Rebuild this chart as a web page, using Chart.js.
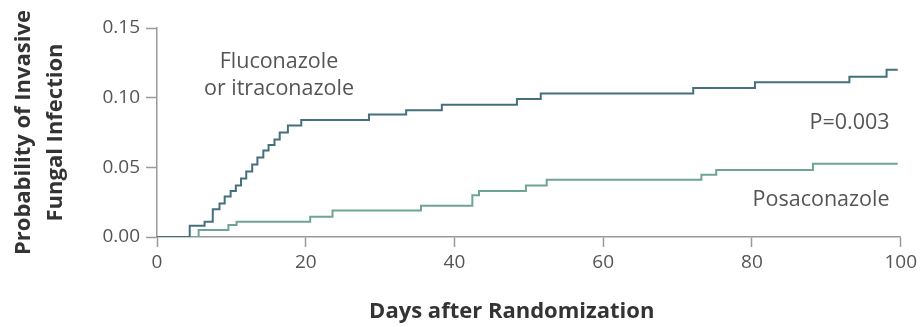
<!DOCTYPE html>
<html>
<head>
<meta charset="utf-8">
<script src="https://cdn.jsdelivr.net/npm/chart.js@4"></script>
<style>
  body { margin: 0; background: #fff; }
  #wrap { width: 921px; height: 327px; position: relative; }
</style>
</head>
<body>
<div id="wrap"><canvas id="stage1"></canvas></div>
<script>
// Kaplan-Meier style curves, [day, probability] (value holds until next step)
var flucoDays   = [0, 4.4, 6.4, 7.5, 8.4, 9.1, 9.9, 10.6, 11.3, 12.0, 12.8, 13.5, 14.3, 15.0, 15.8, 16.5, 17.6, 19.4, 28.5, 33.5, 38.3, 48.4, 51.6, 72.1, 80.4, 93.1, 98.1, 99.6];
var flucoValues = [0, 0.008, 0.011, 0.020, 0.024, 0.029, 0.033, 0.037, 0.042, 0.047, 0.052, 0.057, 0.062, 0.066, 0.070, 0.075, 0.080, 0.084, 0.088, 0.091, 0.095, 0.099, 0.103, 0.107, 0.111, 0.115, 0.120, 0.120];

var posaDays   = [0, 5.6, 9.6, 10.7, 20.6, 23.6, 35.5, 42.4, 43.3, 49.6, 52.4, 73.2, 75.2, 88.2, 99.6];
var posaValues = [0, 0.005, 0.0086, 0.011, 0.0146, 0.019, 0.0225, 0.030, 0.033, 0.037, 0.041, 0.0446, 0.048, 0.0525, 0.0525];

var xTicks = [0, 20, 40, 60, 80, 100];
var yTicks = [0.00, 0.05, 0.10, 0.15];

// in-plot labels, anchored at (day, probability) on the text baseline
var noteText  = ['Fluconazole', 'or itraconazole', 'P=0.003', 'Posaconazole'];
var noteDay   = [16.4, 16.4, 98.5, 98.5];
var noteValue = [0.1216, 0.1022, 0.0777, 0.0223];
var noteAlign = ['center', 'center', 'right', 'right'];

var xTitle = 'Days after Randomization';
var xTitleDay = 47.7;

function toPoints(xs, ys) {
  var pts = [];
  for (var i = 0; i < xs.length; i++) {
    pts.push({x: xs[i], y: ys[i]});
  }
  return pts;
}

var notesPlugin = {
  id: 'notes',
  afterDraw: function(chart) {
    var ctx = chart.ctx;
    var xs = chart.scales.x, ys = chart.scales.y;
    ctx.save();
    ctx.font = '21.5px "Open Sans", sans-serif';
    ctx.fillStyle = '#555555';
    ctx.textBaseline = 'alphabetic';
    for (var i = 0; i < noteText.length; i++) {
      ctx.textAlign = noteAlign[i];
      ctx.fillText(noteText[i], xs.getPixelForValue(noteDay[i]), ys.getPixelForValue(noteValue[i]));
    }
    // x axis title (sits a little left of the axis centre in the original)
    ctx.font = 'bold 22px "Open Sans", sans-serif';
    ctx.fillStyle = '#333333';
    ctx.textAlign = 'center';
    ctx.fillText(xTitle, xs.getPixelForValue(xTitleDay), chart.height - 9);
    ctx.restore();
  }
};

var axisGray = '#9a9a9a';

var chart = new Chart(document.getElementById('stage1'), {
  type: 'scatter',
  data: {
    datasets: [{
      label: 'Fluconazole or itraconazole',
      data: toPoints(flucoDays, flucoValues),
      showLine: true,
      stepped: 'before',
      borderColor: '#44707c',
      borderWidth: 2,
      pointRadius: 0
    }, {
      label: 'Posaconazole',
      data: toPoints(posaDays, posaValues),
      showLine: true,
      stepped: 'before',
      borderColor: '#6ea496',
      borderWidth: 2,
      pointRadius: 0
    }]
  },
  options: {
    responsive: true,
    maintainAspectRatio: false,
    animation: false,
    layout: { padding: { top: 28, right: 18, left: 0, bottom: 0 } },
    plugins: {
      legend: { display: false },
      tooltip: { enabled: false }
    },
    scales: {
      x: {
        type: 'linear',
        min: 0,
        max: 100,
        afterBuildTicks: function(scale) {
          scale.ticks = xTicks.map(function(v) { return {value: v}; });
        },
        afterFit: function(scale) { scale.height = 90; },
        grid: { drawOnChartArea: false, drawTicks: true, tickLength: 10, tickColor: axisGray, tickWidth: 1.5 },
        border: { display: true, color: axisGray, width: 1.5 },
        ticks: {
          padding: 4,
          color: '#555555',
          maxRotation: 0,
          font: { family: '"Open Sans", sans-serif', size: 19 }
        },
        title: { display: false }
      },
      y: {
        min: 0,
        max: 0.15,
        afterBuildTicks: function(scale) {
          scale.ticks = yTicks.map(function(v) { return {value: v}; });
        },
        afterFit: function(scale) { scale.width = 157; },
        grid: { drawOnChartArea: false, drawTicks: true, tickLength: 11, tickColor: axisGray, tickWidth: 1.5 },
        border: { display: true, color: axisGray, width: 1.5 },
        ticks: {
          padding: 6,
          color: '#555555',
          font: { family: '"Open Sans", sans-serif', size: 19 },
          callback: function(v) { return Number(v).toFixed(2); }
        },
        title: {
          display: true,
          text: ['Probability of Invasive', 'Fungal Infection'],
          color: '#333333',
          padding: { top: 8, bottom: 0 },
          font: { family: '"Open Sans", sans-serif', size: 22, weight: 'bold', lineHeight: 1.45 }
        }
      }
    }
  },
  plugins: [notesPlugin]
});
</script>
</body>
</html>
